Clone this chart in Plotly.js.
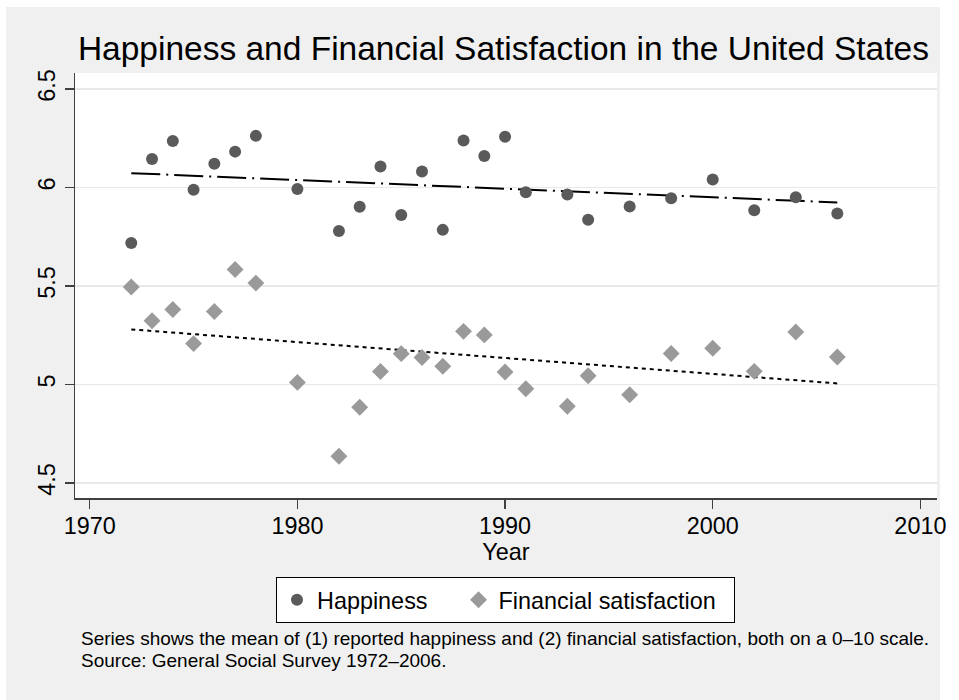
<!DOCTYPE html>
<html>
<head>
<meta charset="utf-8">
<script src="https://cdn.plot.ly/plotly-3.0.1.min.js"></script>
<style>
  html, body { margin: 0; padding: 0; background: #ffffff; }
  #chart { width: 959px; height: 700px; }
</style>
</head>
<body>
<div id="chart"></div>
<script>
// ---- Data ----
const years = [1972, 1973, 1974, 1975, 1976, 1977, 1978, 1980, 1982, 1983, 1984, 1985, 1986,
               1987, 1988, 1989, 1990, 1991, 1993, 1994, 1996, 1998, 2000, 2002, 2004, 2006];
const happiness = [5.718, 6.145, 6.236, 5.988, 6.120, 6.182, 6.262, 5.992, 5.779, 5.902, 6.106, 5.860, 6.081,
                   5.785, 6.238, 6.160, 6.257, 5.976, 5.964, 5.836, 5.904, 5.946, 6.040, 5.885, 5.951, 5.868];
const financial = [5.495, 5.324, 5.381, 5.208, 5.371, 5.584, 5.515, 5.011, 4.636, 4.885, 5.066, 5.157, 5.137,
                   5.093, 5.270, 5.252, 5.064, 4.979, 4.890, 5.045, 4.948, 5.158, 5.184, 5.067, 5.267, 5.140];
const seriesNames = ["Happiness", "Financial satisfaction"];
const xTickVals = [1970, 1980, 1990, 2000, 2010];
const yTickVals = [4.5, 5, 5.5, 6, 6.5];
const yTickText = ["4.5", "5", "5.5", "6", "6.5"];
const titleText = "Happiness and Financial Satisfaction in the United States";
const xTitleText = "Year";
const noteLines = [
  "Series shows the mean of (1) reported happiness and (2) financial satisfaction, both on a 0\u201310 scale.",
  "Source: General Social Survey 1972\u20132006."
];

// ---- Linear fit (least squares) ----
function linearFit(x, y) {
  const n = x.length;
  let mx = 0, my = 0;
  for (let i = 0; i < n; i++) { mx += x[i]; my += y[i]; }
  mx /= n; my /= n;
  let sxy = 0, sxx = 0;
  for (let i = 0; i < n; i++) { sxy += (x[i] - mx) * (y[i] - my); sxx += (x[i] - mx) * (x[i] - mx); }
  const b = sxy / sxx, a = my - b * mx;
  const x0 = Math.min.apply(null, x), x1 = Math.max.apply(null, x);
  return { x: [x0, x1], y: [a + b * x0, a + b * x1] };
}
const fitH = linearFit(years, happiness);
const fitF = linearFit(years, financial);

// ---- Geometry helpers ----
const W = 959, H = 700;
const M = { l: 75, r: 22, t: 73, b: 202 };
const PW = W - M.l - M.r, PH = H - M.t - M.b;
const px = v => (v - M.l) / PW;       // pixel x -> paper x
const py = v => (H - M.b - v) / PH;   // pixel y -> paper y

const FONT = "Liberation Sans, Arial, Helvetica, sans-serif";
const axisCol = "#404040";
const NB = "\u00a0";

const traces = [
  { x: fitH.x, y: fitH.y, type: "scatter", mode: "lines", showlegend: false, hoverinfo: "skip",
    line: { color: "#000000", width: 2, dash: "29px,6px,2px,6px" } },
  { x: fitF.x, y: fitF.y, type: "scatter", mode: "lines", showlegend: false, hoverinfo: "skip",
    line: { color: "#000000", width: 2, dash: "4px,4px" } },
  { x: years, y: happiness, type: "scatter", mode: "markers", name: seriesNames[0] + NB.repeat(4),
    marker: { symbol: "circle", size: 12, color: "#5a5a5a" } },
  { x: years, y: financial, type: "scatter", mode: "markers", name: seriesNames[1] + NB.repeat(2),
    marker: { symbol: "diamond", size: 13, color: "#9a9a9a" } }
];

const whiteStrip = (x0, x1, y0, y1) => ({
  type: "rect", xref: "paper", yref: "paper", x0: px(x0), x1: px(x1), y0: py(y0), y1: py(y1),
  fillcolor: "#ffffff", line: { width: 0 }, layer: "below"
});

const layout = {
  width: W, height: H,
  margin: M,
  paper_bgcolor: "#f0f0f0",
  plot_bgcolor: "#ffffff",
  font: { family: FONT, color: "#000000", size: 23.4 },
  title: {
    text: titleText,
    font: { family: FONT, size: 33.5, color: "#000000" },
    xref: "paper", x: 0.497, xanchor: "center",
    yref: "container", y: 1 - 48.3 / H, yanchor: "middle"
  },
  xaxis: {
    range: [1969.29, 2010.8],
    tickvals: xTickVals,
    ticks: "outside", ticklen: 9, tickwidth: 1.5, tickcolor: axisCol,
    ticklabelstandoff: -3,
    showline: true, linecolor: axisCol, linewidth: 1.5,
    showgrid: false, zeroline: false,
    tickfont: { family: FONT, size: 23.4, color: "#000000" },
    title: { text: xTitleText, font: { family: FONT, size: 23.4, color: "#000000" }, standoff: 4 }
  },
  yaxis: {
    range: [4.4244, 6.581],
    tickvals: yTickVals, ticktext: yTickText, tickangle: -90,
    ticks: "outside", ticklen: 9, tickwidth: 1.5, tickcolor: axisCol,
    showline: true, linecolor: axisCol, linewidth: 1.5,
    showgrid: true, gridcolor: "#e8e8e8", gridwidth: 1.5, zeroline: false,
    tickfont: { family: FONT, size: 23.4, color: "#000000" }
  },
  legend: {
    orientation: "h",
    x: px(505.5), xanchor: "center",
    y: py(577), yanchor: "top",
    bgcolor: "#ffffff", bordercolor: "#000000", borderwidth: 1,
    font: { family: FONT, size: 23.4, color: "#000000" }
  },
  shapes: [
    whiteStrip(0, 959, 0, 7),
    whiteStrip(0, 6, 0, 700),
    whiteStrip(940, 959, 0, 700)
  ],
  annotations: [
    { text: noteLines[0], xref: "paper", yref: "paper", x: px(79), y: py(638.9),
      xanchor: "left", yanchor: "middle", showarrow: false, align: "left",
      font: { family: FONT, size: 19, color: "#000000" } },
    { text: noteLines[1], xref: "paper", yref: "paper", x: px(79), y: py(660.7),
      xanchor: "left", yanchor: "middle", showarrow: false, align: "left",
      font: { family: FONT, size: 19, color: "#000000" } }
  ],
  showlegend: true,
  hovermode: false
};

Plotly.newPlot("chart", traces, layout, { displayModeBar: false, staticPlot: true });
</script>
</body>
</html>
